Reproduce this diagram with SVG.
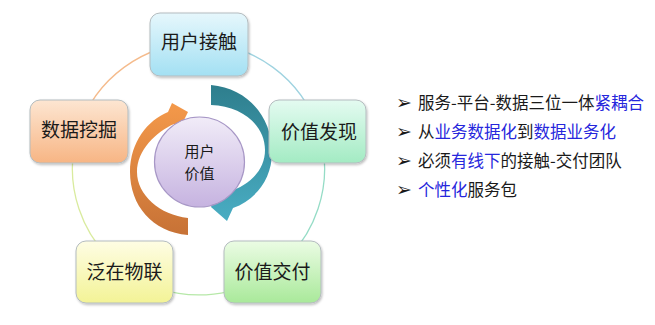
<svg xmlns="http://www.w3.org/2000/svg" width="655" height="325" viewBox="0 0 655 325">
<defs>
<linearGradient id="gBlue" x1="0" y1="0" x2="0" y2="1"><stop offset="0" stop-color="#e6f7fc"/><stop offset="1" stop-color="#a3e0f3"/></linearGradient>
<linearGradient id="gPeach" x1="0" y1="0" x2="0" y2="1"><stop offset="0" stop-color="#fde6d2"/><stop offset="1" stop-color="#f7b584"/></linearGradient>
<linearGradient id="gMint" x1="0" y1="0" x2="0" y2="1"><stop offset="0" stop-color="#e4fbf1"/><stop offset="1" stop-color="#a3ebc3"/></linearGradient>
<linearGradient id="gYellow" x1="0" y1="0" x2="0" y2="1"><stop offset="0" stop-color="#fefde4"/><stop offset="1" stop-color="#f3f396"/></linearGradient>
<linearGradient id="gGreen" x1="0" y1="0" x2="0" y2="1"><stop offset="0" stop-color="#ebfce4"/><stop offset="1" stop-color="#a9e99a"/></linearGradient>
<linearGradient id="gPurple" x1="0" y1="0" x2="0" y2="1"><stop offset="0" stop-color="#f1ecf8"/><stop offset="1" stop-color="#c6b3e0"/></linearGradient>
<linearGradient id="gTeal" x1="0" y1="0" x2="0" y2="1"><stop offset="0" stop-color="#2e7e8d"/><stop offset="1" stop-color="#49adc3"/></linearGradient>
<linearGradient id="gOrange" x1="0" y1="0" x2="0" y2="1"><stop offset="0" stop-color="#f4994a"/><stop offset="1" stop-color="#c77236"/></linearGradient>
<filter id="sh" x="-10%" y="-10%" width="130%" height="130%"><feDropShadow dx="1" dy="1.5" stdDeviation="1.2" flood-color="#000" flood-opacity="0.25"/></filter>
</defs>
<style>
.node{stroke:#b4bcbf;stroke-width:1;filter:url(#sh)}
.nt{font-family:"Noto Sans CJK SC","Noto Sans",sans-serif;font-size:19px;fill:#1a1a1a;text-anchor:middle}
.ct{font-family:"Noto Sans CJK SC","Noto Sans",sans-serif;font-size:15px;fill:#1a1a1a;text-anchor:middle}
.arc{fill:none;stroke-width:1.3}
.bl{font-family:"Noto Sans CJK SC","Noto Sans",sans-serif;font-size:16.5px;fill:#1a1a1a}
.hl{fill:#2626dc}
.bu{font-family:"DejaVu Sans",sans-serif;font-size:19px;fill:#1a1a1a}
</style>
<g id="connectors">
<path class="arc" stroke="#9fd3e0" d="M198.5,43 A126,126 0 0 1 318.7,131.1"/>
<path class="arc" stroke="#95dcc6" d="M318.7,131.1 A126,126 0 0 1 272,271.3"/>
<path class="arc" stroke="#b6e8a8" d="M272,271.3 A126,126 0 0 1 125,271.3"/>
<path class="arc" stroke="#d9eb9e" d="M125,271.3 A126,126 0 0 1 78.3,131.1"/>
<path class="arc" stroke="#f5bb8c" d="M78.3,131.1 A126,126 0 0 1 198.5,43"/>
</g>
<g id="arrow-teal">
<path fill="url(#gTeal)" d="M211,85 C248,88 272,118 272,152 C272,180 255,200 233,208 L227,221 L211,207 L222,183 L228,192 C250,185 265,170 265,150 C265,125 242,106 211,105 Z"/>
</g>
<g id="arrow-orange">
<path fill="url(#gOrange)" d="M188,235 C152,232 130,205 130,172 C130,142 148,120 168,112 L172,103 L188,112 L178,132 L174,124 C156,132 137,150 137,172 C137,195 160,215 188,218 Z"/>
</g>
<g id="node-center">
<circle cx="199.5" cy="162" r="45" fill="url(#gPurple)" stroke="#a797c6" stroke-width="1.2"/>
<text class="ct" x="199.5" y="157">用户</text>
<text class="ct" x="199.5" y="179">价值</text>
</g>
<g id="node-contact">
<rect class="node" x="150" y="13" width="98" height="63" rx="10" fill="url(#gBlue)"/>
<text class="nt" x="199" y="48.5">用户接触</text>
</g>
<g id="node-mining">
<rect class="node" x="30" y="100" width="98" height="63" rx="10" fill="url(#gPeach)"/>
<text class="nt" x="79" y="137">数据挖掘</text>
</g>
<g id="node-discover">
<rect class="node" x="269" y="100" width="97" height="63" rx="10" fill="url(#gMint)"/>
<text class="nt" x="319" y="138.5">价值发现</text>
</g>
<g id="node-iot">
<rect class="node" x="76" y="241" width="97" height="62" rx="10" fill="url(#gYellow)"/>
<text class="nt" x="124.5" y="278.5">泛在物联</text>
</g>
<g id="node-deliver">
<rect class="node" x="224" y="241" width="97" height="62" rx="10" fill="url(#gGreen)"/>
<text class="nt" x="272.5" y="278.5">价值交付</text>
</g>
<g id="bullets">
<text class="bu" x="396" y="109">➢</text>
<text class="bl" x="418" y="108.5">服务-平台-数据三位一体<tspan class="hl">紧耦合</tspan></text>
<text class="bu" x="396" y="138">➢</text>
<text class="bl" x="418" y="137.5">从<tspan class="hl">业务数据化</tspan>到<tspan class="hl">数据业务化</tspan></text>
<text class="bu" x="396" y="167">➢</text>
<text class="bl" x="418" y="166.5">必须<tspan class="hl">有线下</tspan>的接触-交付团队</text>
<text class="bu hl" x="396" y="196">➢</text>
<text class="bl" x="418" y="195.5"><tspan class="hl">个性化</tspan>服务包</text>
</g>
</svg>
